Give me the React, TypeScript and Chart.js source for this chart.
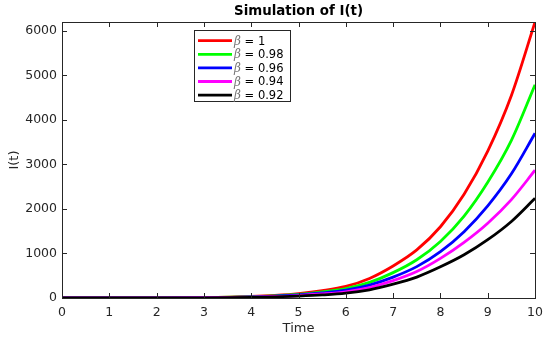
import React, { useEffect, useRef } from "react";
import { Chart, registerables } from "chart.js";

Chart.register(...registerables);

const times = [0, 1, 2, 3, 4, 4.5, 5, 5.5, 6, 6.5, 7, 7.5, 8, 8.5, 9, 9.5, 10];
const beta1 = [0, 1, 3, 10, 35, 60, 100, 165, 260, 440, 720, 1080, 1600, 2330, 3300, 4550, 6200];
const beta098 = [0, 1, 2, 8, 28, 50, 80, 135, 210, 350, 570, 860, 1270, 1840, 2600, 3540, 4790];
const beta096 = [0, 1, 2, 7, 23, 42, 68, 112, 175, 290, 470, 705, 1040, 1490, 2070, 2790, 3700];
const beta094 = [0, 1, 2, 6, 19, 34, 55, 90, 140, 235, 390, 595, 890, 1250, 1680, 2210, 2870];
const beta092 = [0, 1, 1, 5, 15, 26, 43, 68, 108, 185, 310, 470, 700, 970, 1310, 1720, 2240];

const seriesLabels = ["1", "0.98", "0.96", "0.94", "0.92"];
const seriesValues = [beta1, beta098, beta096, beta094, beta092];
const seriesColors = ["#ff0000", "#00ff00", "#0000ff", "#ff00ff", "#000000"];

const xTicks = [0, 1, 2, 3, 4, 5, 6, 7, 8, 9, 10];
const yTicks = [0, 1000, 2000, 3000, 4000, 5000, 6000];

const FONT = "'DejaVu Sans', 'Liberation Sans', Arial, sans-serif";
const AXIS_COLOR = "#262626";

const matlabPlugin = {
  id: "matlabFrame",
  afterDraw(chart: any) {
    const ctx = chart.ctx;
    const { left, right, top, bottom } = chart.chartArea;
    const xs = chart.scales.x;
    const ys = chart.scales.y;
    ctx.save();
    ctx.strokeStyle = AXIS_COLOR;
    ctx.lineWidth = 1;
    ctx.strokeRect(Math.round(left) + 0.5, Math.round(top) + 0.5, Math.round(right - left), Math.round(bottom - top));
    const tl = 5;
    ctx.beginPath();
    xTicks.forEach((v) => {
      const px = Math.round(xs.getPixelForValue(v)) + 0.5;
      ctx.moveTo(px, bottom);
      ctx.lineTo(px, bottom - tl);
      ctx.moveTo(px, top);
      ctx.lineTo(px, top + tl);
    });
    yTicks.forEach((v) => {
      const py = Math.round(ys.getPixelForValue(v)) + 0.5;
      ctx.moveTo(left, py);
      ctx.lineTo(left + tl, py);
      ctx.moveTo(right, py);
      ctx.lineTo(right - tl, py);
    });
    ctx.stroke();

    // title
    ctx.fillStyle = "#000";
    ctx.font = `bold 13.4px ${FONT}`;
    ctx.textAlign = "center";
    ctx.textBaseline = "middle";
    ctx.fillText("Simulation of I(t)", (left + right) / 2, 12);

    // legend
    const bx = left + 132;
    const by = top + 8;
    const bw = 96;
    const bh = 71;
    ctx.fillStyle = "#fff";
    ctx.fillRect(bx, by, bw, bh);
    ctx.lineWidth = 1;
    ctx.strokeStyle = AXIS_COLOR;
    ctx.strokeRect(Math.round(bx) + 0.5, Math.round(by) + 0.5, bw, bh);
    chart.data.datasets.forEach((ds: any, i: number) => {
      const ry = by + 10.7 + i * 13.6;
      ctx.strokeStyle = ds.borderColor;
      ctx.lineWidth = 2.8;
      ctx.beginPath();
      ctx.moveTo(bx + 4, ry);
      ctx.lineTo(bx + 38, ry);
      ctx.stroke();
      ctx.textAlign = "left";
      ctx.textBaseline = "middle";
      ctx.font = `italic 12px 'DejaVu Serif', serif`;
      ctx.fillStyle = "#777";
      ctx.fillText("β", bx + 40, ry + 1);
      const bwid = ctx.measureText("β").width;
      ctx.font = `11.5px ${FONT}`;
      ctx.fillStyle = "#000";
      ctx.fillText(" = " + seriesLabels[i], bx + 40 + bwid, ry + 1);
    });
    ctx.restore();
  },
};

export default function App() {
  const ref = useRef<HTMLCanvasElement>(null);
  useEffect(() => {
    document.body.style.margin = "0";
    const canvas = ref.current!;
    const chart = new Chart(canvas, {
      type: "line",
      data: {
        datasets: seriesValues.map((vals, i) => ({
          label: "β = " + seriesLabels[i],
          data: times.map((t, j) => ({ x: t, y: vals[j] })),
          borderColor: seriesColors[i],
          backgroundColor: seriesColors[i],
          borderWidth: 2.8,
          pointRadius: 0,
          cubicInterpolationMode: "monotone" as const,
          fill: false,
          order: 4 - i,
        })),
      },
      options: {
        responsive: false,
        animation: false,
        layout: { padding: { top: 22, right: 12, left: 0, bottom: 0 } },
        plugins: {
          legend: { display: false },
          title: { display: false },
          tooltip: { enabled: false },
        },
        scales: {
          x: {
            type: "linear",
            min: 0,
            max: 10,
            grid: { display: false, drawTicks: false },
            border: { display: false },
            ticks: {
              stepSize: 1,
              padding: 7,
              color: AXIS_COLOR,
              font: { family: FONT, size: 12.5 },
              maxRotation: 0,
              callback: (v: any) => String(v),
            },
            title: {
              display: true,
              text: "Time",
              color: AXIS_COLOR,
              font: { family: FONT, size: 13 },
              padding: { top: 0, bottom: 1 },
            },
            afterFit: (s: any) => {
              s.height = 39;
            },
          },
          y: {
            type: "linear",
            min: 0,
            max: 6200,
            grid: { display: false, drawTicks: false },
            border: { display: false },
            ticks: {
              stepSize: 1000,
              padding: 5,
              color: AXIS_COLOR,
              font: { family: FONT, size: 12.5 },
              callback: (v: any) => String(v),
            },
            afterBuildTicks: (s: any) => {
              s.ticks = yTicks.map((v) => ({ value: v }));
            },
            title: {
              display: true,
              text: "I(t)",
              color: AXIS_COLOR,
              font: { family: FONT, size: 13 },
              padding: { top: 7, bottom: 0 },
            },
            afterFit: (s: any) => {
              s.width = 62;
            },
          },
        },
      },
      plugins: [matlabPlugin],
    });
    return () => chart.destroy();
  }, []);
  return <canvas ref={ref} width={550} height={337} style={{ display: "block" }} />;
}
